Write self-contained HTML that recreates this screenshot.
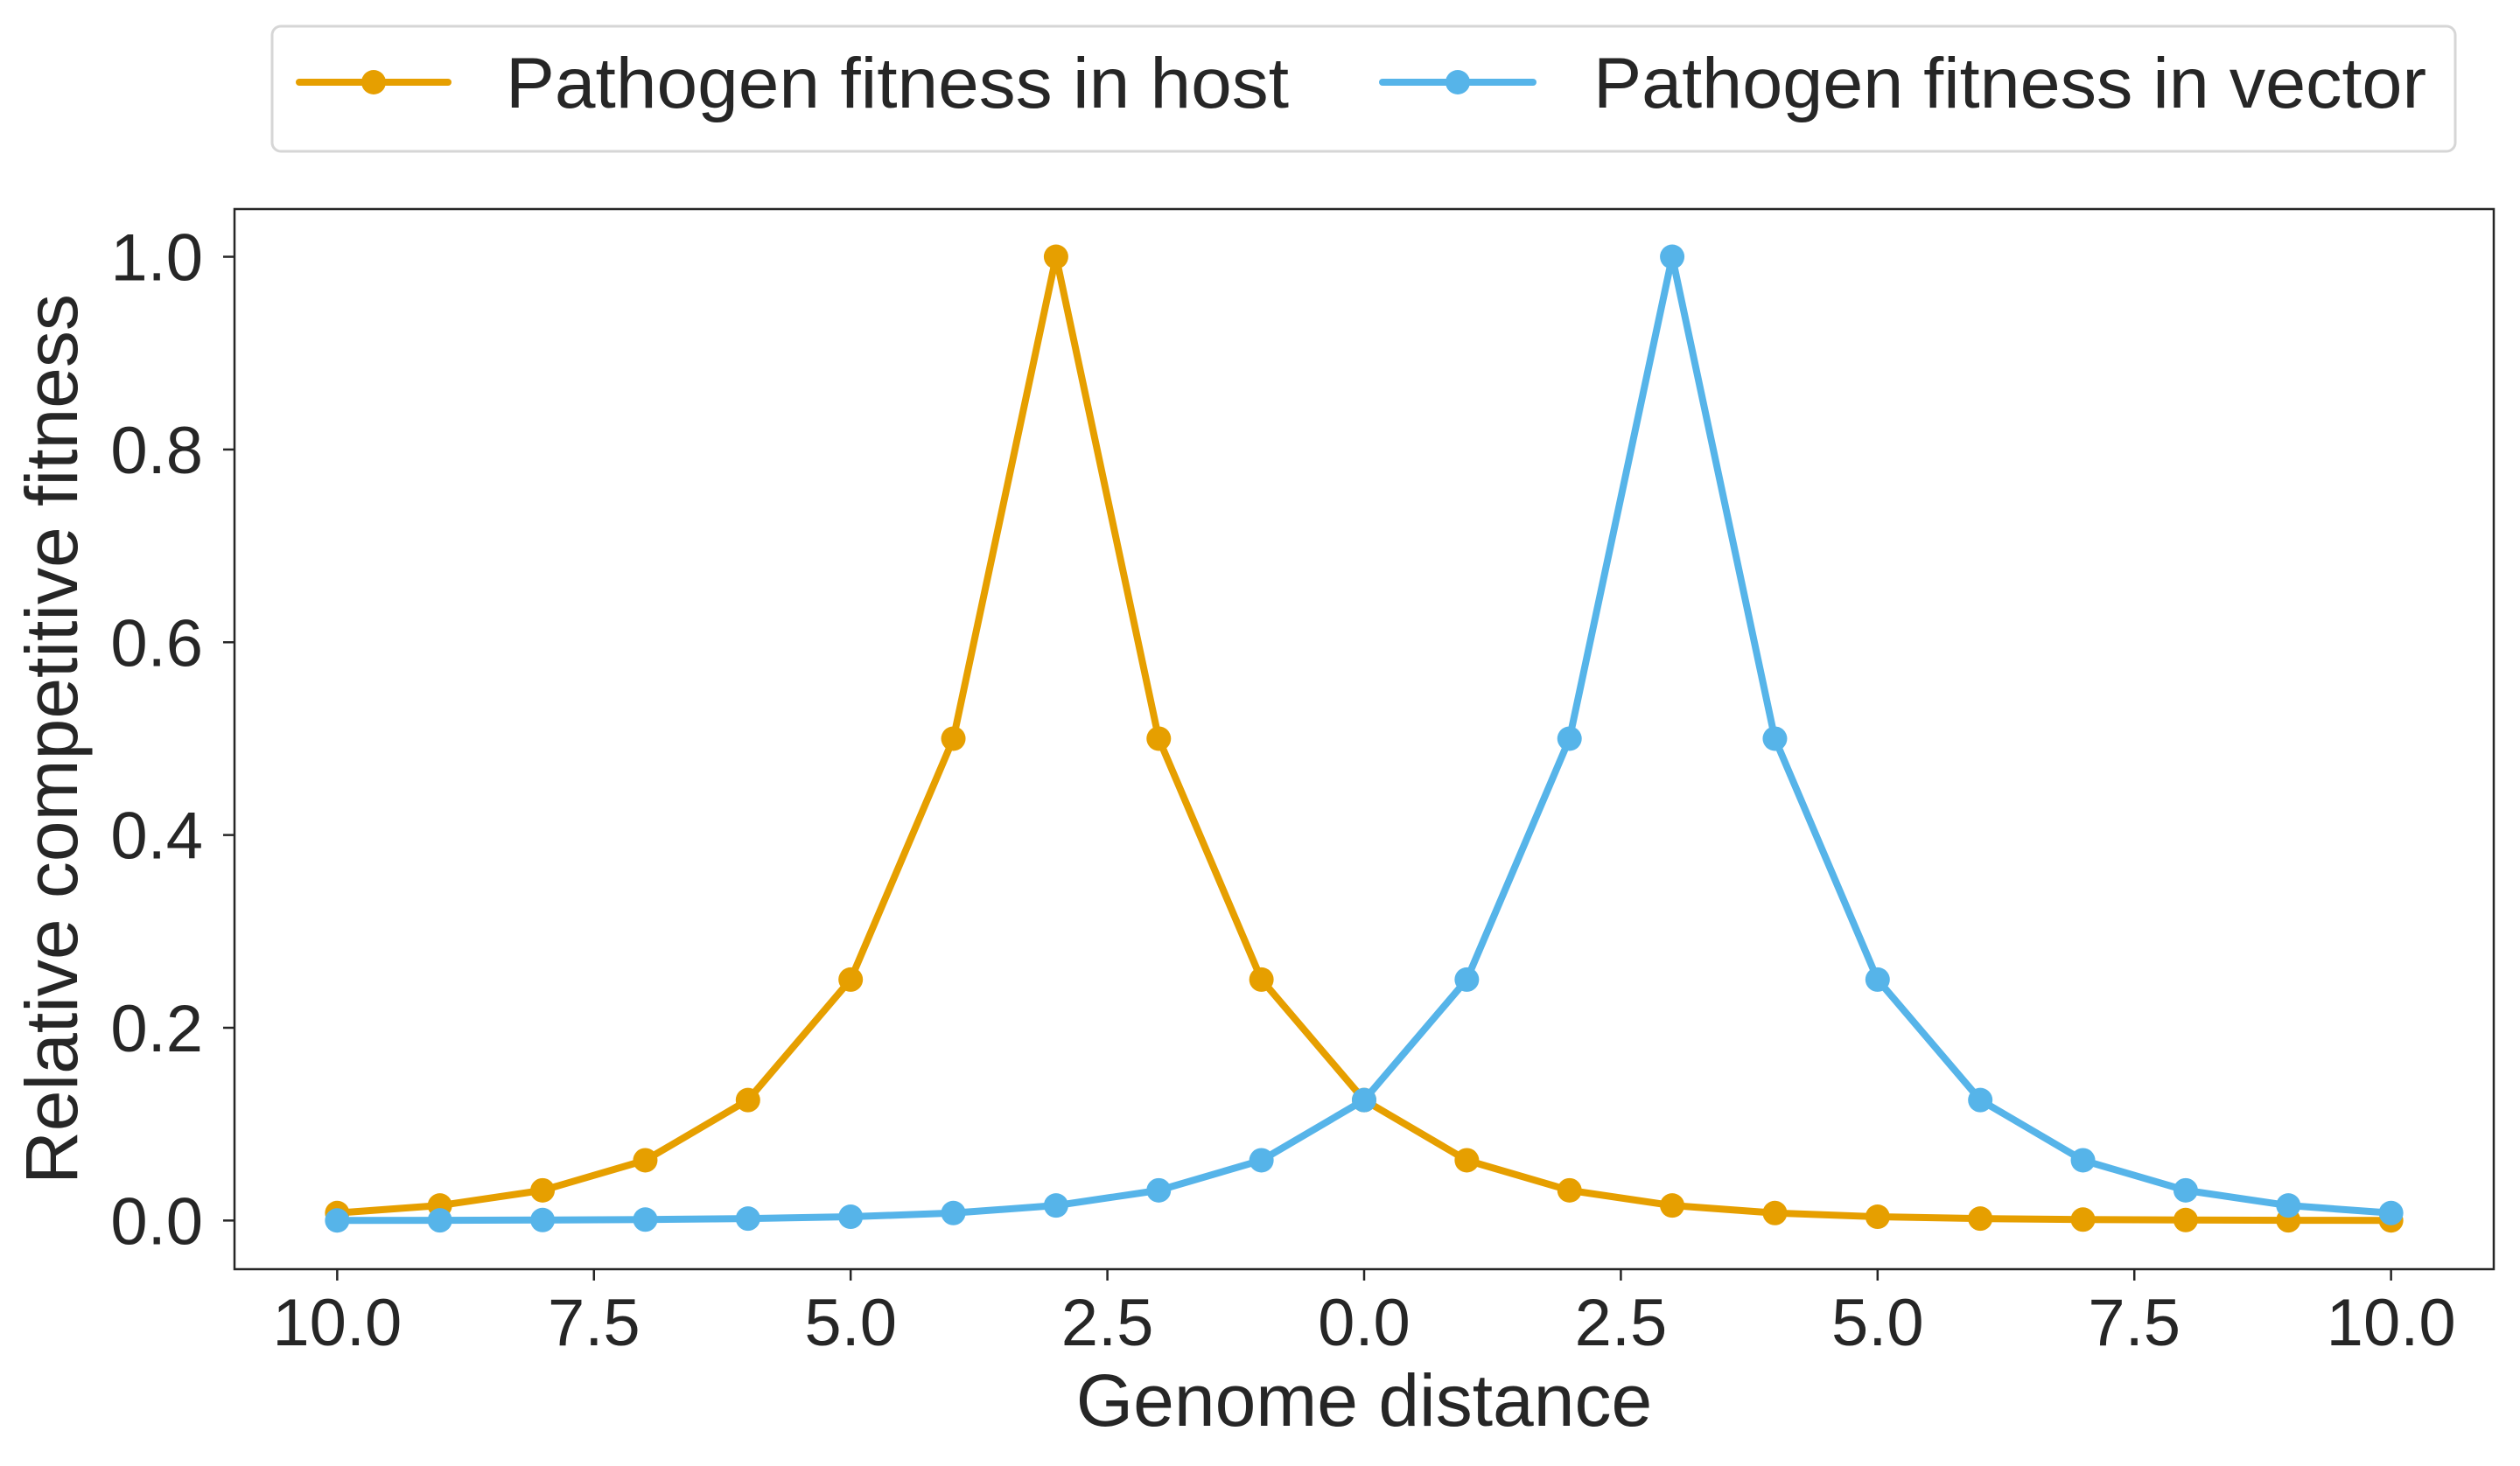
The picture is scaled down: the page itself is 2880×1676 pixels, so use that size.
<!DOCTYPE html>
<html><head><meta charset="utf-8"><style>
html,body{margin:0;padding:0;background:#fff;}
svg{display:block;font-family:"Liberation Sans",sans-serif;}
</style></head><body>
<svg id="chart" width="2880" height="1676" viewBox="0 0 2880 1676" xmlns="http://www.w3.org/2000/svg">
<rect width="2880" height="1676" fill="#fff"/>
<g id="plot"></g>
<g>
<rect x="311" y="30" width="2495" height="143" rx="10" fill="#fff" stroke="#d6d6d6" stroke-width="3"/>
<g>
<line x1="342" y1="94" x2="512" y2="94" stroke="#E69F00" stroke-width="8" stroke-linecap="round"/>
<circle cx="427" cy="94" r="14" fill="#E69F00"/>
<text x="578" y="123" font-size="82" fill="#262626" textLength="895" lengthAdjust="spacingAndGlyphs">Pathogen fitness in host</text>
</g>
<g>
<line x1="1580" y1="94" x2="1752" y2="94" stroke="#56B4E9" stroke-width="8" stroke-linecap="round"/>
<circle cx="1666" cy="94" r="14" fill="#56B4E9"/>
<text x="1821" y="123" font-size="82" fill="#262626" textLength="952" lengthAdjust="spacingAndGlyphs">Pathogen fitness in vector</text>
</g>
</g>
</svg>
<script>
const xValues = [-10,-9,-8,-7,-6,-5,-4,-3,-2,-1,0,1,2,3,4,5,6,7,8,9,10];
const hostFitness = [0.0078,0.0156,0.0313,0.0625,0.125,0.25,0.5,1.0,0.5,0.25,0.125,0.0625,0.0313,0.0156,0.0078,0.0039,0.002,0.001,0.0005,0.0002,0.0001];
const vectorFitness = [0.0001,0.0002,0.0005,0.001,0.002,0.0039,0.0078,0.0156,0.0313,0.0625,0.125,0.25,0.5,1.0,0.5,0.25,0.125,0.0625,0.0313,0.0156,0.0078];
const xTicks = [-10,-7.5,-5,-2.5,0,2.5,5,7.5,10];
const xTickLabels = ["10.0","7.5","5.0","2.5","0.0","2.5","5.0","7.5","10.0"];
const yTicks = [0,0.2,0.4,0.6,0.8,1.0];
const yTickLabels = ["0.0","0.2","0.4","0.6","0.8","1.0"];

const NS = "http://www.w3.org/2000/svg";
const L = 268, R = 2850, T = 239, B = 1451;
const xMin = -11, xMax = 11, yMin = -0.0505, yMax = 1.0495;
function xs(v){ return L + (v - xMin) / (xMax - xMin) * (R - L); }
function ys(v){ return B - (v - yMin) / (yMax - yMin) * (B - T); }
const plot = document.getElementById('plot');
function mk(tag, attrs, parent){
  const e = document.createElementNS(NS, tag);
  for (const k in attrs) e.setAttribute(k, attrs[k]);
  (parent || plot).appendChild(e);
  return e;
}
xTicks.forEach((t, i) => {
  const g = mk('g', {});
  
  
  mk('line', {x1: xs(t), x2: xs(t), y1: B, y2: B + 13, stroke: '#262626', 'stroke-width': 2.5}, g);
  const tx = mk('text', {x: xs(t), y: 1538, 'font-size': 76, fill: '#262626', 'text-anchor': 'middle'}, g);
  tx.textContent = xTickLabels[i];
});
yTicks.forEach((t, i) => {
  const g = mk('g', {});
  
  
  mk('line', {x1: L - 13, x2: L, y1: ys(t), y2: ys(t), stroke: '#262626', 'stroke-width': 2.5}, g);
  const tx = mk('text', {x: 232, y: ys(t) + 27, 'font-size': 76, fill: '#262626', 'text-anchor': 'end'}, g);
  tx.textContent = yTickLabels[i];
});
function series(vals, color, name){
  const g = mk('g', {});
  
  
  const pts = vals.map((v, i) => xs(xValues[i]) + ',' + ys(v)).join(' ');
  const pl = mk('polyline', {points: pts, fill: 'none', stroke: color, 'stroke-width': 8, 'stroke-linejoin': 'round'}, g);
  
  
  vals.forEach((v, i) => {
    const c = mk('circle', {cx: xs(xValues[i]), cy: ys(v), r: 14, fill: color}, g);
    
    
  });
}
series(hostFitness, '#E69F00', 'host-series');
series(vectorFitness, '#56B4E9', 'vector-series');
const fr = mk('rect', {x: L, y: T, width: R - L, height: B - T, fill: 'none', stroke: '#262626', 'stroke-width': 2.5});


const xl = mk('text', {x: (L + R) / 2, y: 1630, 'font-size': 84, fill: '#262626', 'text-anchor': 'middle'});


xl.textContent = 'Genome distance';
const yl = mk('text', {x: 0, y: 0, 'font-size': 84, fill: '#262626', 'text-anchor': 'middle', transform: 'translate(88,' + ((T + B) / 2) + ') rotate(-90)'});


yl.textContent = 'Relative competitive fitness';
</script>
</body></html>
